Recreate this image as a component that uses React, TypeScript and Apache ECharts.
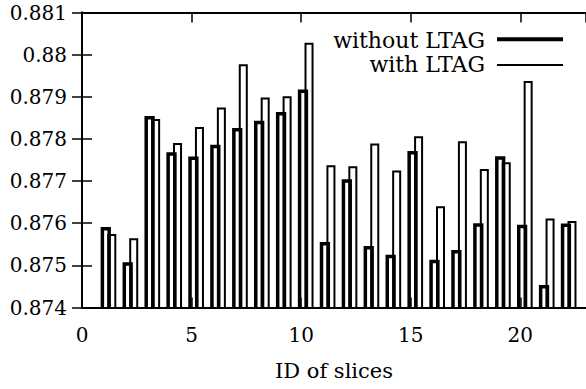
import React, { useEffect, useRef } from 'react';
import * as echarts from 'echarts';

// ---- data ----
const sliceIds = [1, 2, 3, 4, 5, 6, 7, 8, 9, 10, 11, 12, 13, 14, 15, 16, 17, 18, 19, 20, 21, 22];
const withoutLTAG = [
  0.87587, 0.87503, 0.8785, 0.87764, 0.87754, 0.87782, 0.87822, 0.87839, 0.8786, 0.87913, 0.87551,
  0.877, 0.87542, 0.87521, 0.87767, 0.87509, 0.87532, 0.87596, 0.87755, 0.87592, 0.87449, 0.87595,
];
const withLTAG = [
  0.87572, 0.87562, 0.87845, 0.87788, 0.87826, 0.87872, 0.87975, 0.87896, 0.87899, 0.88026, 0.87735,
  0.87733, 0.87787, 0.87723, 0.87804, 0.87638, 0.87792, 0.87726, 0.87742, 0.87935, 0.87609, 0.87603,
];
const seriesNames = ['without LTAG', 'with LTAG'];
const xTitle = 'ID of slices';
const xMin = 0;
const xMax = 23;
const xStep = 5;
const yMin = 0.874;
const yMax = 0.881;
const yStep = 0.001;

export default function App() {
  const ref = useRef<HTMLDivElement>(null);
  useEffect(() => {
    const chart = echarts.init(ref.current!, null, { renderer: 'svg' });
    const font = "'DejaVu Serif', 'Liberation Serif', serif";
    const makeBars = (name: string, values: number[], off0: number, off1: number, lw: number) => ({
      type: 'custom',
      name,
      clip: true,
      data: sliceIds.map((id, k) => [id, values[k]]),
      renderItem: (_params: any, api: any) => {
        const x = api.value(0) as number;
        const v = api.value(1) as number;
        const p0 = api.coord([x + off0, v]);
        const p1 = api.coord([x + off1, yMin - 0.0003]);
        return {
          type: 'rect',
          shape: { x: p0[0], y: p0[1], width: p1[0] - p0[0], height: p1[1] - p0[1] },
          style: { fill: 'none', stroke: '#000', lineWidth: lw },
        };
      },
    });
    const axisLine = { show: true, lineStyle: { color: '#000', width: 2 } };
    const axisTick = { show: true, inside: true, length: 10, lineStyle: { color: '#000', width: 1.5 } };
    chart.setOption({
      animation: false,
      backgroundColor: '#fff',
      grid: { left: 82, top: 12.5, right: -3.35, bottom: 81.5, containLabel: false },
      xAxis: [
        {
          type: 'value',
          min: xMin,
          max: xMax,
          interval: xStep,
          position: 'bottom',
          axisLine,
          axisTick,
          splitLine: { show: false },
          axisLabel: { color: '#000', fontFamily: font, fontSize: 20, margin: 17, showMaxLabel: false },
          name: xTitle,
          nameLocation: 'middle',
          nameGap: 53,
          nameTextStyle: { color: '#000', fontFamily: font, fontSize: 21 },
        },
        {
          type: 'value',
          min: xMin,
          max: xMax,
          interval: xStep,
          position: 'top',
          axisLine,
          axisTick,
          splitLine: { show: false },
          axisLabel: { show: false },
        },
      ],
      yAxis: [
        {
          type: 'value',
          min: yMin,
          max: yMax,
          interval: yStep,
          position: 'left',
          axisLine,
          axisTick,
          splitLine: { show: false },
          axisLabel: { color: '#000', fontFamily: font, fontSize: 20, margin: 15, padding: [7, 0, 0, 0] },
        },
        {
          type: 'value',
          min: yMin,
          max: yMax,
          interval: yStep,
          position: 'right',
          axisLine,
          axisTick,
          splitLine: { show: false },
          axisLabel: { show: false },
        },
      ],
      series: [
        makeBars(seriesNames[0], withoutLTAG, -0.07, 0.24, 3.5),
        makeBars(seriesNames[1], withLTAG, 0.2, 0.52, 2),
      ],
      graphic: [
        {
          type: 'text',
          x: 485,
          y: 40,
          style: { text: seriesNames[0], fill: '#000', font: `22px ${font}`, textAlign: 'right', textVerticalAlign: 'middle' },
        },
        { type: 'line', shape: { x1: 497, y1: 39.3, x2: 563, y2: 39.3 }, style: { stroke: '#000', lineWidth: 4 } },
        {
          type: 'text',
          x: 485,
          y: 64,
          style: { text: seriesNames[1], fill: '#000', font: `22px ${font}`, textAlign: 'right', textVerticalAlign: 'middle' },
        },
        { type: 'line', shape: { x1: 497, y1: 65, x2: 563, y2: 65 }, style: { stroke: '#000', lineWidth: 2 } },
      ],
    });
    return () => chart.dispose();
  }, []);
  return <div ref={ref} style={{ position: 'absolute', left: 0, top: 0, width: 586, height: 389 }} />;
}
